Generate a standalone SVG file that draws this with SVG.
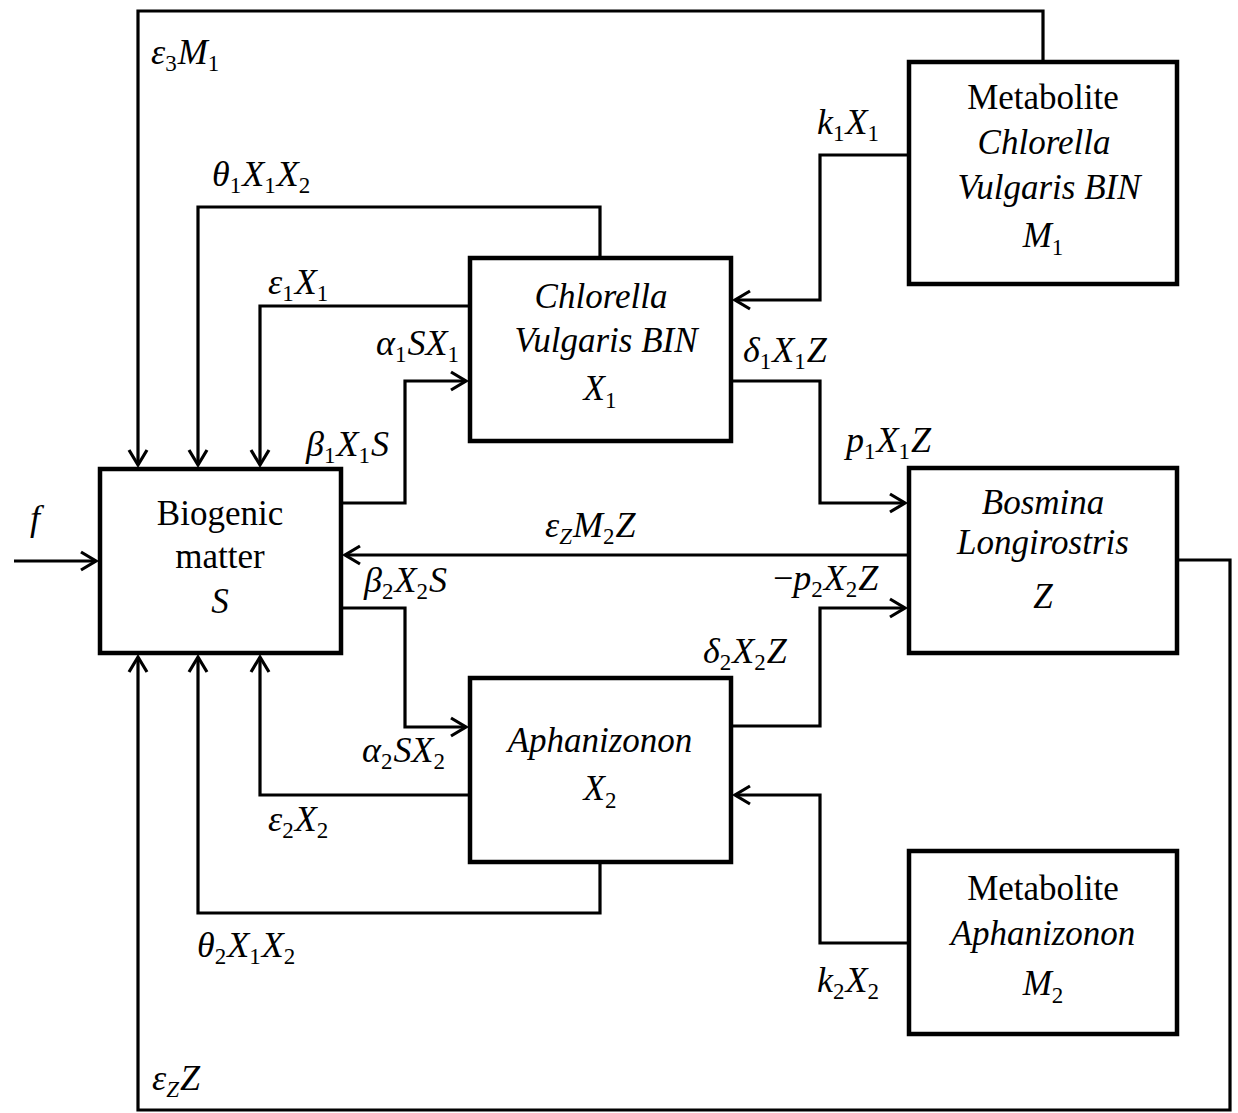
<svg xmlns="http://www.w3.org/2000/svg" width="1238" height="1113" viewBox="0 0 1238 1113">
<style>
.box{fill:#fff;stroke:#000;stroke-width:4.5}
.ln{fill:none;stroke:#000;stroke-width:3.2}
text{font-family:'Liberation Serif',serif;font-size:35px;fill:#000}
.lb{font-style:italic;font-size:36px}
.bt{text-anchor:middle}
.it{font-style:italic}
.sb{font-size:23px;font-style:normal}
.sbi{font-size:23px;font-style:italic}
</style>
<defs>
<marker id="ar" markerUnits="userSpaceOnUse" markerWidth="30" markerHeight="30" viewBox="-20 -15 30 30" refX="0" refY="0" orient="auto">
<path d="M-15,-9 L0,0 L-15,9" fill="none" stroke="#000" stroke-width="3.2"/>
</marker>
</defs>
<rect width="1238" height="1113" fill="#fff"/>
<g id="connectors">
<path class="ln" d="M1043,62 V11 H138 V465" marker-end="url(#ar)"/>
<path class="ln" d="M600,258 V207 H198 V465" marker-end="url(#ar)"/>
<path class="ln" d="M470,306 H260 V465" marker-end="url(#ar)"/>
<path class="ln" d="M341,503 H405 V381 H466" marker-end="url(#ar)"/>
<path class="ln" d="M909,155 H820 V300 H735" marker-end="url(#ar)"/>
<path class="ln" d="M731,381 H820 V503 H905" marker-end="url(#ar)"/>
<path class="ln" d="M909,555 H345" marker-end="url(#ar)"/>
<path class="ln" d="M341,608 H405 V727 H466" marker-end="url(#ar)"/>
<path class="ln" d="M731,726 H820 V608 H905" marker-end="url(#ar)"/>
<path class="ln" d="M470,795 H260 V657" marker-end="url(#ar)"/>
<path class="ln" d="M600,862 V913 H198 V657" marker-end="url(#ar)"/>
<path class="ln" d="M909,943 H820 V795 H735" marker-end="url(#ar)"/>
<path class="ln" d="M1177,560 H1230 V1110 H138 V657" marker-end="url(#ar)"/>
<path class="ln" d="M14,561 H96" marker-end="url(#ar)"/>
</g>
<g id="node-S">
<rect class="box" x="100" y="469" width="241" height="184"/>
<text class="bt" x="220" y="525">Biogenic</text>
<text class="bt" x="220" y="568">matter</text>
<text class="bt it" x="220" y="613">S</text>
</g>
<g id="node-X1">
<rect class="box" x="470" y="258" width="261" height="183"/>
<text class="bt it" x="601" y="308">Chlorella</text>
<text class="bt it" x="606" y="352">Vulgaris BIN</text>
<text class="bt it" x="600" y="400">X<tspan class="sb" dy="8">1</tspan></text>
</g>
<g id="node-M1">
<rect class="box" x="909" y="62" width="268" height="222"/>
<text class="bt" x="1043" y="109">Metabolite</text>
<text class="bt it" x="1044" y="154">Chlorella</text>
<text class="bt it" x="1049" y="199">Vulgaris BIN</text>
<text class="bt it" x="1043" y="247">M<tspan class="sb" dy="8">1</tspan></text>
</g>
<g id="node-Z">
<rect class="box" x="909" y="468" width="268" height="185"/>
<text class="bt it" x="1043" y="514">Bosmina</text>
<text class="bt it" x="1043" y="554">Longirostris</text>
<text class="bt it" x="1043" y="608">Z</text>
</g>
<g id="node-X2">
<rect class="box" x="470" y="678" width="261" height="184"/>
<text class="bt it" x="600" y="752">Aphanizonon</text>
<text class="bt it" x="600" y="800">X<tspan class="sb" dy="8">2</tspan></text>
</g>
<g id="node-M2">
<rect class="box" x="909" y="851" width="268" height="183"/>
<text class="bt" x="1043" y="900">Metabolite</text>
<text class="bt it" x="1043" y="945">Aphanizonon</text>
<text class="bt it" x="1043" y="995">M<tspan class="sb" dy="8">2</tspan></text>
</g>
<g id="labels">
<text class="lb" x="151" y="64">ε<tspan class="sb" dy="7">3</tspan><tspan dy="-7" dx="1">M</tspan><tspan class="sb" dy="7">1</tspan></text>
<text class="lb" x="212" y="186">θ<tspan class="sb" dy="7">1</tspan><tspan dy="-7" dx="1">X</tspan><tspan class="sb" dy="7">1</tspan><tspan dy="-7" dx="1">X</tspan><tspan class="sb" dy="7">2</tspan></text>
<text class="lb" x="268" y="294">ε<tspan class="sb" dy="7">1</tspan><tspan dy="-7" dx="1">X</tspan><tspan class="sb" dy="7">1</tspan></text>
<text class="lb" x="376" y="355">α<tspan class="sb" dy="7">1</tspan><tspan dy="-7" dx="1">SX</tspan><tspan class="sb" dy="7">1</tspan></text>
<text class="lb" x="306" y="456">β<tspan class="sb" dy="7">1</tspan><tspan dy="-7" dx="1">X</tspan><tspan class="sb" dy="7">1</tspan><tspan dy="-7" dx="1">S</tspan></text>
<text class="lb" x="817" y="134">k<tspan class="sb" dy="7">1</tspan><tspan dy="-7" dx="1">X</tspan><tspan class="sb" dy="7">1</tspan></text>
<text class="lb" x="743" y="362">δ<tspan class="sb" dy="7">1</tspan><tspan dy="-7" dx="1">X</tspan><tspan class="sb" dy="7">1</tspan><tspan dy="-7" dx="1">Z</tspan></text>
<text class="lb" x="846" y="452">p<tspan class="sb" dy="7">1</tspan><tspan dy="-7" dx="1">X</tspan><tspan class="sb" dy="7">1</tspan><tspan dy="-7" dx="1">Z</tspan></text>
<text class="lb" x="545" y="537">ε<tspan class="sbi" dy="7">Z</tspan><tspan dy="-7" dx="1">M</tspan><tspan class="sb" dy="7">2</tspan><tspan dy="-7" dx="1">Z</tspan></text>
<text class="lb" x="364" y="592">β<tspan class="sb" dy="7">2</tspan><tspan dy="-7" dx="1">X</tspan><tspan class="sb" dy="7">2</tspan><tspan dy="-7" dx="1">S</tspan></text>
<text class="lb" x="773" y="590"><tspan style="font-style:normal">−</tspan>p<tspan class="sb" dy="7">2</tspan><tspan dy="-7" dx="1">X</tspan><tspan class="sb" dy="7">2</tspan><tspan dy="-7" dx="1">Z</tspan></text>
<text class="lb" x="703" y="663">δ<tspan class="sb" dy="7">2</tspan><tspan dy="-7" dx="1">X</tspan><tspan class="sb" dy="7">2</tspan><tspan dy="-7" dx="1">Z</tspan></text>
<text class="lb" x="362" y="762">α<tspan class="sb" dy="7">2</tspan><tspan dy="-7" dx="1">SX</tspan><tspan class="sb" dy="7">2</tspan></text>
<text class="lb" x="268" y="831">ε<tspan class="sb" dy="7">2</tspan><tspan dy="-7" dx="1">X</tspan><tspan class="sb" dy="7">2</tspan></text>
<text class="lb" x="197" y="957">θ<tspan class="sb" dy="7">2</tspan><tspan dy="-7" dx="1">X</tspan><tspan class="sb" dy="7">1</tspan><tspan dy="-7" dx="1">X</tspan><tspan class="sb" dy="7">2</tspan></text>
<text class="lb" x="817" y="992">k<tspan class="sb" dy="7">2</tspan><tspan dy="-7" dx="1">X</tspan><tspan class="sb" dy="7">2</tspan></text>
<text class="lb" x="152" y="1090">ε<tspan class="sbi" dy="7">Z</tspan><tspan dy="-7" dx="1">Z</tspan></text>
<text class="lb" x="30" y="530">f</text>
</g>
</svg>
